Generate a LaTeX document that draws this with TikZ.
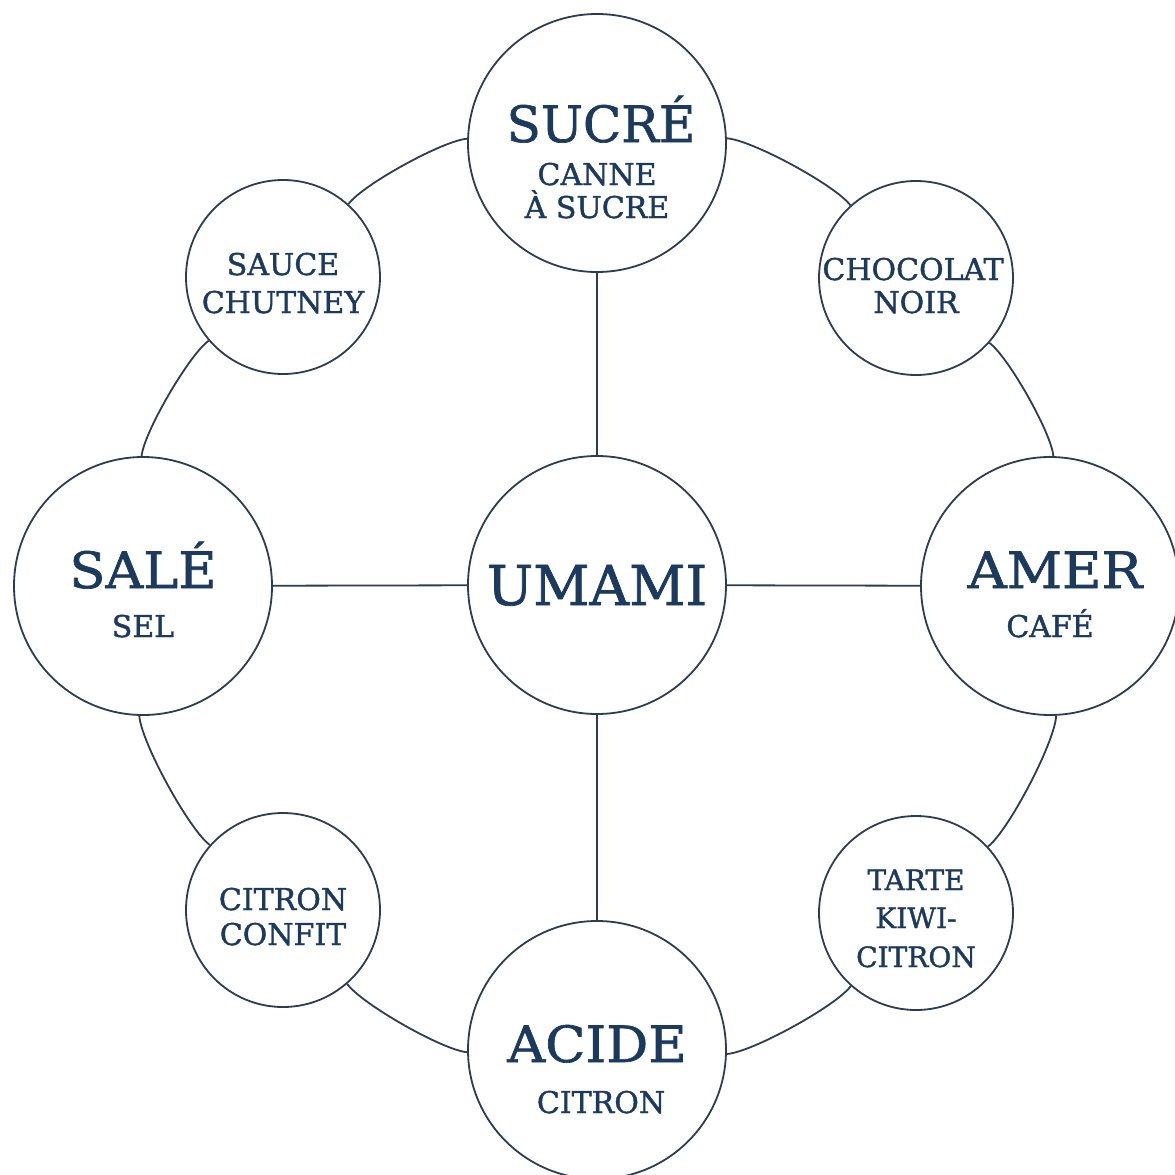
\documentclass[tikz,border=0pt]{standalone}
\usepackage{fontspec}
\setmainfont{DejaVu Serif}[FakeBold=1.3]
\usetikzlibrary{calc}
\definecolor{ink}{HTML}{1B3A5E}
\definecolor{rim}{HTML}{2C3D52}
\begin{document}
\begin{tikzpicture}[x=1pt,y=1pt,
  big/.style={circle,draw=rim,line width=1.8pt,minimum size=258pt,inner sep=0pt,fill=white},
  small/.style={circle,draw=rim,line width=1.8pt,minimum size=194pt,inner sep=0pt,fill=white},
  link/.style={draw=rim,line width=1.8pt},
  ring/.style={link,bend left=25,looseness=0.45},
  ttl/.style={anchor=base,text=ink,font=\fontsize{50}{50}\selectfont,inner sep=0pt},
  ttlbig/.style={anchor=base,text=ink,font=\fontsize{55}{55}\selectfont,inner sep=0pt},
  sub/.style={anchor=base,text=ink,font=\fontsize{30}{30}\selectfont,inner sep=0pt},
  subs/.style={anchor=base,text=ink,font=\fontsize{28}{28}\selectfont,inner sep=0pt},
]
\useasboundingbox (0,0) rectangle (1175,-1175);
\fill[white] (0,0) rectangle (1175,-1175);

% circles
\node[big] (sucre) at (597,-143) {};
\node[big] (umami) at (597,-585) {};
\node[big] (acide) at (597,-1050) {};
\node[big] (sale) at (143,-586) {};
\node[big] (amer) at (1050,-586) {};
\node[small] (sauce) at (283,-277) {};
\node[small] (choco) at (916,-278) {};
\node[small] (confit) at (283,-910) {};
\node[small] (tarte) at (916,-913) {};

% spokes
\draw[link] (sucre) -- (umami);
\draw[link] (umami) -- (acide);
\draw[link] (sale) -- (umami);
\draw[link] (umami) -- (amer);

% ring
\draw (sucre) edge[ring] (choco)
      (choco) edge[ring] (amer)
      (amer) edge[ring] (tarte)
      (tarte) edge[ring] (acide)
      (acide) edge[ring] (confit)
      (confit) edge[ring] (sale)
      (sale) edge[ring] (sauce)
      (sauce) edge[ring] (sucre);

% texts
\node[ttl] (t1) at ($(sucre)+(4,1)$) {SUCRÉ};
\node[sub] (t1a) at ($(sucre)+(0,-42)$) {CANNE};
\node[sub] (t1b) at ($(sucre)+(0,-75)$) {À SUCRE};

\node[ttlbig] (t2) at ($(umami)+(0,-20)$) {UMAMI};

\node[ttl,xscale=1.05] (t3) at ($(sale)+(0,-2)$) {SALÉ};
\node[sub] (t3a) at ($(sale)+(0,-51)$) {SEL};

\node[ttl,xscale=1.08] (t4) at ($(amer)+(5,-2)$) {AMER};
\node[sub] (t4a) at ($(amer)+(0,-51)$) {CAFÉ};

\node[ttl,xscale=1.05] (t5) at ($(acide)+(0,-12)$) {ACIDE};
\node[sub] (t5a) at ($(acide)+(4,-63)$) {CITRON};

\node[sub] (t6) at ($(sauce)+(0,2)$) {SAUCE};
\node[sub] (t6a) at ($(sauce)+(0,-36)$) {CHUTNEY};

\node[sub] (t7) at ($(choco)+(-3,-2)$) {CHOCOLAT};
\node[sub] (t7a) at ($(choco)+(0,-35)$) {NOIR};

\node[sub] (t8) at ($(confit)+(0,0)$) {CITRON};
\node[sub] (t8a) at ($(confit)+(0,-35)$) {CONFIT};

\node[subs] (t9) at ($(tarte)+(0,23)$) {TARTE};
\node[subs] (t9a) at ($(tarte)+(0,-15)$) {KIWI-};
\node[subs] (t9b) at ($(tarte)+(0,-54)$) {CITRON};
\end{tikzpicture}
\end{document}
